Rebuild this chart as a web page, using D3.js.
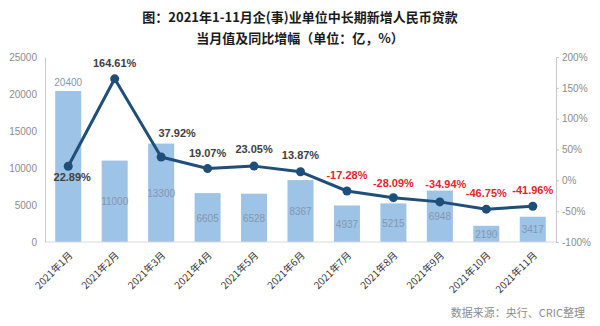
<!DOCTYPE html>
<html>
<head>
<meta charset="utf-8">
<script src="https://cdn.jsdelivr.net/npm/d3@7/dist/d3.min.js"></script>
<style>
  html, body { margin: 0; padding: 0; background: #fff; }
  svg { display: block; font-family: "Noto Sans CJK SC", "Noto Sans", sans-serif; }
</style>
</head>
<body>
<svg id="chart" width="600" height="326"></svg>
<script>
// Monthly new medium/long-term RMB loans to enterprises (100 million yuan) and YoY growth (%)
const months = ["2021年1月", "2021年2月", "2021年3月", "2021年4月", "2021年5月", "2021年6月",
                "2021年7月", "2021年8月", "2021年9月", "2021年10月", "2021年11月"];
const loanValues = [20400, 11000, 13300, 6605, 6528, 8367, 4937, 5215, 6948, 2190, 3417];
const yoyGrowth = [22.89, 164.61, 37.92, 19.07, 23.05, 13.87, -17.28, -28.09, -34.94, -46.75, -41.96];
const leftTicks = [0, 5000, 10000, 15000, 20000, 25000];
const rightTicks = [-100, -50, 0, 50, 100, 150, 200];
const titleLines = ["图：2021年1-11月企(事)业单位中长期新增人民币贷款", "当月值及同比增幅（单位：亿，%）"];
const sourceNote = "数据来源：央行、CRIC整理";

// label nudges [dx, dy] relative to each line point
const growthLabelNudge = [[4, 15], [0, -12], [16, -20], [0, -12], [0, -13], [0, -13],
                          [0, -12], [0, -11], [6, -14], [0, -12], [0, -12]];

const svg = d3.select("#chart");
const plot = { left: 45, right: 556, top: 57, bottom: 242 };
const numFont = "'Liberation Sans', Arial, sans-serif";

const x = d3.scaleBand().domain(months).range([plot.left, plot.right]).paddingInner(0.44).paddingOuter(0.22);
const yL = d3.scaleLinear().domain([0, 25000]).range([plot.bottom, plot.top]);
const yR = d3.scaleLinear().domain([-100, 200]).range([plot.bottom, plot.top]);

// title
svg.append("g").selectAll("text").data(titleLines).join("text")
  .attr("x", 300).attr("y", (d, i) => 22 + i * 21)
  .attr("text-anchor", "middle")
  .attr("font-size", 13).attr("font-weight", "bold").attr("fill", "#1a1a1a")
  .text(d => d);

// bars
svg.append("g").selectAll("rect").data(loanValues).join("rect")
  .attr("x", (d, i) => x(months[i]))
  .attr("y", d => yL(d))
  .attr("width", x.bandwidth())
  .attr("height", d => yL(0) - yL(d))
  .attr("fill", "#9dc3e6");

// baseline
svg.append("line")
  .attr("x1", plot.left).attr("x2", plot.right)
  .attr("y1", yL(0)).attr("y2", yL(0))
  .attr("stroke", "#d9d9d9").attr("stroke-width", 1);

// left axis
const gL = svg.append("g").attr("transform", `translate(${plot.left},0)`)
  .call(d3.axisLeft(yL).tickValues(leftTicks).tickSize(0).tickPadding(8).tickFormat(d3.format("d")));
gL.select(".domain").attr("stroke", "#c8c8c8");
gL.selectAll("text").attr("font-family", numFont).attr("font-size", 10).attr("fill", "#8c8c8c");

// right axis
const gR = svg.append("g").attr("transform", `translate(${plot.right},0)`)
  .call(d3.axisRight(yR).tickValues(rightTicks).tickSize(3).tickSizeOuter(0).tickPadding(3)
        .tickFormat(d => d + "%"));
gR.select(".domain").attr("stroke", "#c8c8c8");
gR.selectAll(".tick line").attr("stroke", "#c8c8c8");
gR.selectAll("text").attr("font-family", numFont).attr("font-size", 10).attr("fill", "#8c8c8c");

// bar value labels: centered in bar, first one above the bar
svg.append("g").selectAll("text").data(loanValues).join("text")
  .attr("x", (d, i) => x(months[i]) + x.bandwidth() / 2)
  .attr("y", (d, i) => i === 0 ? yL(d) - 5 : (yL(d) + yL(0)) / 2 + 4)
  .attr("text-anchor", "middle")
  .attr("font-family", numFont).attr("font-size", 10).attr("fill", "#8497b0")
  .text(d => d);

// growth line
const cx = i => x(months[i]) + x.bandwidth() / 2;
const line = d3.line().x((d, i) => cx(i)).y(d => yR(d));
svg.append("path").datum(yoyGrowth)
  .attr("d", line).attr("fill", "none")
  .attr("stroke", "#1f4e79").attr("stroke-width", 3).attr("stroke-linejoin", "round");
svg.append("g").selectAll("circle").data(yoyGrowth).join("circle")
  .attr("cx", (d, i) => cx(i)).attr("cy", d => yR(d)).attr("r", 4.5)
  .attr("fill", "#1f4e79");

// growth labels
svg.append("g").selectAll("text").data(yoyGrowth).join("text")
  .attr("x", (d, i) => cx(i) + growthLabelNudge[i][0])
  .attr("y", (d, i) => yR(d) + growthLabelNudge[i][1])
  .attr("text-anchor", "middle")
  .attr("font-family", numFont).attr("font-size", 11).attr("font-weight", "bold")
  .attr("fill", d => d < 0 ? "#e8232f" : "#404040")
  .text(d => d.toFixed(2) + "%");

// month labels, rotated
svg.append("g").selectAll("text").data(months).join("text")
  .attr("transform", (d, i) => `translate(${cx(i) + 5},${plot.bottom + 14}) rotate(-45)`)
  .attr("text-anchor", "end")
  .attr("font-size", 10).attr("fill", "#333")
  .text(d => d);

// source note
svg.append("text")
  .attr("x", 585).attr("y", 317)
  .attr("text-anchor", "end")
  .attr("font-size", 11).attr("fill", "#8c8c8c")
  .text(sourceNote);
</script>
</body>
</html>
